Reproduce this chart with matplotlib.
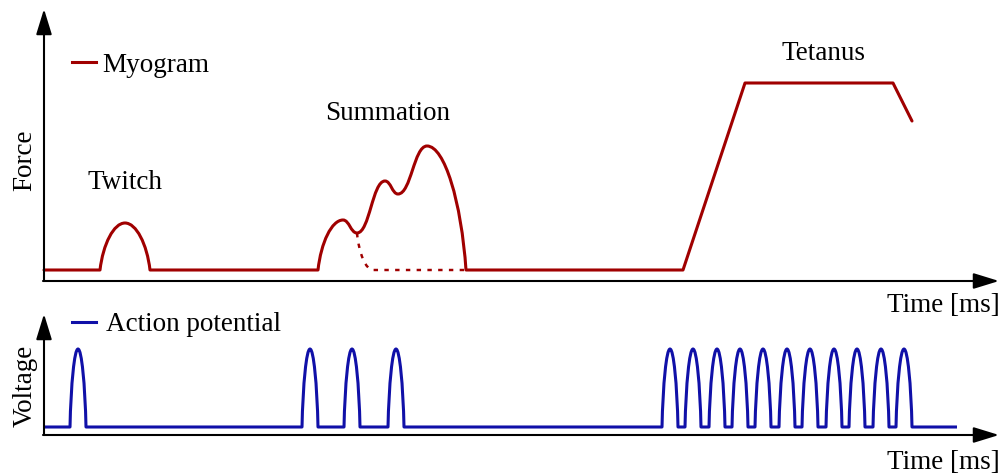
import matplotlib
matplotlib.use('Agg')
import matplotlib.pyplot as plt
from matplotlib.path import Path
from matplotlib.patches import PathPatch

plt.rcParams['font.family'] = ['Liberation Serif', 'DejaVu Serif']

#---------------------------
# myogram: time (arb. ms) / force (arb. units)
trace_start = 44
twitch_t = [100, 125, 150]
twitch_f = [0, 47, 0]
summ_t = [318, 343, 357, 385, 398, 427, 466]
summ_f = [0, 50, 37, 89, 76, 124, 0]
decay_t = [357, 373, 466]          # single twitch decay (dashed)
decay_f = [37, 0, 0]
tetanus_t = [683, 745, 893, 912]
tetanus_f = [0, 187, 187, 149]

# action potentials: peak times, width, amplitude
ap_twitch = [78]
ap_summ = [310, 352, 396]
ap_tetanus = [670, 693, 717, 740, 763, 787, 810, 834, 857, 881, 904]
ap_width = 16
ap_height = 78
ap_end = 957
#---------------------------

RED = '#a00000'
BLUE = '#1010a8'
FS = 19.5
LW = 2.2


def seg(a, b, ka, kb):
    # cubic piece; 'h' = rounded top/dip, 'v' = steep foot
    dx, dy = b[0] - a[0], b[1] - a[1]
    c1 = (a[0] + 0.45 * dx, a[1]) if ka == 'h' else (a[0] + 0.12 * dx, a[1] + 0.55 * dy)
    c2 = (b[0] - 0.45 * dx, b[1]) if kb == 'h' else (b[0] - 0.12 * dx, b[1] - 0.55 * dy)
    return [c1, c2, b], [Path.CURVE4] * 3


def bump(ts, fs, kinds=None):
    if kinds is None:
        kinds = 'v' + 'h' * (len(ts) - 2) + 'v'
    verts, codes = [], []
    for i in range(len(ts) - 1):
        v, c = seg((ts[i], fs[i]), (ts[i + 1], fs[i + 1]), kinds[i], kinds[i + 1])
        verts += v
        codes += c
    return verts, codes


fig = plt.figure(figsize=(10.07, 4.77), dpi=100)
ax1 = fig.add_axes([0, 177 / 477, 1, 300 / 477])
ax2 = fig.add_axes([0, 0, 1, 177 / 477])
ax1.set_xlim(0, 1007)
ax1.set_ylim(-29, 271)
ax2.set_xlim(0, 1007)
ax2.set_ylim(-49, 128)
for ax in (ax1, ax2):
    ax.axis('off')

## myogram
verts = [(trace_start, 0), (twitch_t[0], 0)]
codes = [Path.MOVETO, Path.LINETO]
v, c = bump(twitch_t, twitch_f)
verts += v; codes += c
verts.append((summ_t[0], 0)); codes.append(Path.LINETO)
v, c = bump(summ_t, summ_f)
verts += v; codes += c
for t, f in zip(tetanus_t, tetanus_f):
    verts.append((t, f)); codes.append(Path.LINETO)
ax1.add_patch(PathPatch(Path(verts, codes), fill=False, edgecolor=RED, lw=LW,
                        joinstyle='round', capstyle='round'))

verts = [(decay_t[0], decay_f[0])]
codes = [Path.MOVETO]
v, c = seg((decay_t[0], decay_f[0]), (decay_t[1], decay_f[1]), 'v', 'h')
verts += v; codes += c
verts.append((decay_t[2], decay_f[2])); codes.append(Path.LINETO)
ax1.add_patch(PathPatch(Path(verts, codes), fill=False, edgecolor=RED, lw=LW * 0.8,
                        linestyle=(0, (1.8, 2.6))))

## action potentials
verts = [(trace_start, 0)]
codes = [Path.MOVETO]
for p in ap_twitch + ap_summ + ap_tetanus:
    h = ap_width / 2
    verts.append((p - h, 0)); codes.append(Path.LINETO)
    v, c = bump([p - h, p, p + h], [0, ap_height, 0])
    verts += v; codes += c
verts.append((ap_end, 0)); codes.append(Path.LINETO)
ax2.add_patch(PathPatch(Path(verts, codes), fill=False, edgecolor=BLUE, lw=LW,
                        joinstyle='round'))

## axes arrows
arr = dict(arrowstyle='-|>,head_length=0.78,head_width=0.24', mutation_scale=20,
           lw=1.5, color='black', shrinkA=0, shrinkB=0)
ax1.annotate('', xy=(44, 261), xytext=(44, -11), arrowprops=arr)
ax1.annotate('', xy=(999, -11), xytext=(43, -11), arrowprops=arr)
ax2.annotate('', xy=(44, 113), xytext=(44, -8), arrowprops=arr)
ax2.annotate('', xy=(999, -8), xytext=(43, -8), arrowprops=arr)

## labels
ax1.plot([72, 96], [208, 208], color=RED, lw=LW)
ax1.text(102, 199, 'Myogram', fontsize=FS, va='baseline')
ax1.text(88, 82, 'Twitch', fontsize=FS, va='baseline')
ax1.text(325, 151, 'Summation', fontsize=FS, va='baseline')
ax1.text(782, 211, 'Tetanus', fontsize=FS, va='baseline')
ax1.text(1000, -41, 'Time [ms]', fontsize=FS, va='baseline', ha='right')
ax1.text(31, 111, 'Force', fontsize=FS, rotation=90, rotation_mode='anchor',
         ha='center', va='baseline')

ax2.plot([72, 96], [105, 105], color=BLUE, lw=LW)
ax2.text(106, 97, 'Action potential', fontsize=FS, va='baseline')
ax2.text(1000, -41, 'Time [ms]', fontsize=FS, va='baseline', ha='right')
ax2.text(32, 42, 'Voltage', fontsize=FS, rotation=90, rotation_mode='anchor',
         ha='center', va='baseline')

fig.savefig('out.png', dpi=100)
